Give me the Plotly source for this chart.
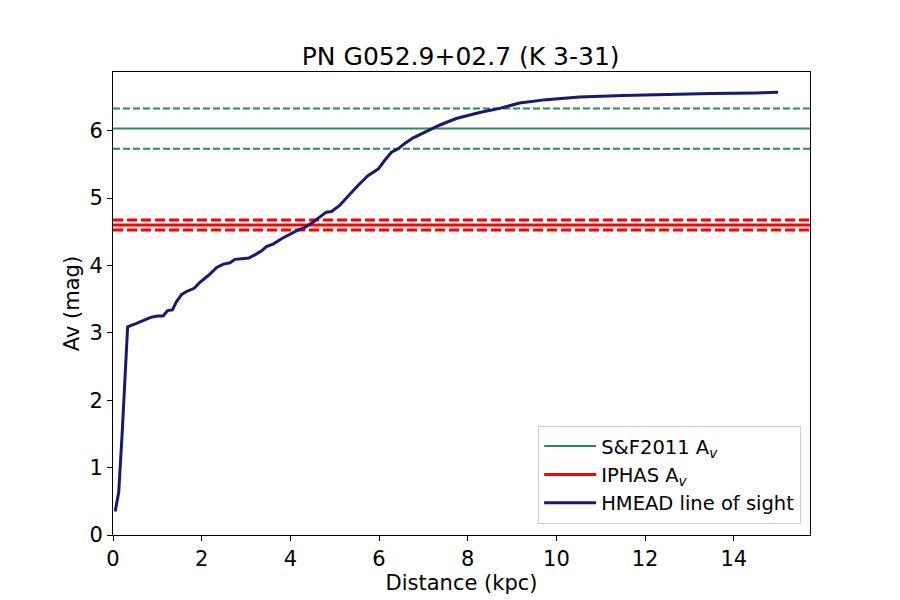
import plotly.graph_objects as go

title = "PN G052.9+02.7 (K 3-31)"

# HMEAD line of sight extinction
dist_kpc = [0.05, 0.13, 0.21, 0.33, 0.53, 0.72, 0.85, 1.00, 1.13, 1.23, 1.34, 1.43,
            1.55, 1.68, 1.83, 1.96, 2.15, 2.34, 2.49, 2.64, 2.75, 2.91, 3.06, 3.21,
            3.36, 3.46, 3.62, 3.81, 4.00, 4.19, 4.32, 4.51, 4.81, 4.93, 5.11, 5.34,
            5.53, 5.75, 5.98, 6.13, 6.28, 6.43, 6.58, 6.76, 7.07, 7.36, 7.74, 8.27,
            8.72, 9.17, 9.77, 10.52, 11.5, 12.5, 13.5, 14.5, 15.0]
av_los = [0.35, 0.64, 1.55, 3.09, 3.14, 3.19, 3.23, 3.25, 3.25, 3.33, 3.34, 3.46,
          3.57, 3.62, 3.66, 3.75, 3.85, 3.97, 4.02, 4.04, 4.09, 4.10, 4.11, 4.16,
          4.22, 4.28, 4.32, 4.40, 4.47, 4.53, 4.56, 4.64, 4.79, 4.80, 4.89, 5.06,
          5.19, 5.33, 5.43, 5.56, 5.68, 5.73, 5.81, 5.89, 5.99, 6.08, 6.18, 6.27,
          6.33, 6.41, 6.46, 6.50, 6.52, 6.54, 6.55, 6.56, 6.57]

# S&F2011 and IPHAS extinction with errors
av_sf, av_sf_err = 6.03, 0.30
av_iphas, av_iphas_err = 4.60, 0.075

x_ticks = [0, 2, 4, 6, 8, 10, 12, 14]
y_ticks = [0, 1, 2, 3, 4, 5, 6]

green = "#2e8b57"
red = "#ff0000"
navy = "#191970"

fig = go.Figure()

# legend-only entries for the horizontal lines
fig.add_trace(go.Scatter(x=[None], y=[None], mode="lines", name="S&F2011 A<sub><i>v</i></sub>",
                         line=dict(color=green, width=2)))
fig.add_trace(go.Scatter(x=[None], y=[None], mode="lines", name="IPHAS A<sub><i>v</i></sub>",
                         line=dict(color=red, width=3)))
fig.add_trace(go.Scatter(x=dist_kpc, y=av_los, mode="lines", name="HMEAD line of sight",
                         line=dict(color=navy, width=3)))

fig.add_hline(y=av_sf, line=dict(color=green, width=2), layer="below")
fig.add_hline(y=av_sf + av_sf_err, line=dict(color=green, width=2, dash="7px,3px"), layer="below")
fig.add_hline(y=av_sf - av_sf_err, line=dict(color=green, width=2, dash="7px,3px"), layer="below")
fig.add_hline(y=av_iphas, line=dict(color=red, width=3), layer="below")
fig.add_hline(y=av_iphas + av_iphas_err, line=dict(color=red, width=3, dash="10px,4px"), layer="below")
fig.add_hline(y=av_iphas - av_iphas_err, line=dict(color=red, width=3, dash="10px,4px"), layer="below")

axis_style = dict(showline=True, linecolor="black", linewidth=1, mirror=True,
                  ticks="outside", ticklen=5, tickcolor="black", showgrid=False,
                  zeroline=False, automargin=False,
                  tickfont=dict(size=21, color="black"))

# the page body adds an 8px offset, so margins are shifted to compensate
fig.update_layout(
    width=900, height=600,
    paper_bgcolor="white", plot_bgcolor="white",
    font=dict(family="DejaVu Sans", color="black"),
    margin=dict(l=105, r=98, t=64, b=73),
    title=dict(text=title, x=0.503, xanchor="center", y=0.92, yref="container",
               yanchor="middle", font=dict(size=25)),
    xaxis=dict(range=[0, 15.72], tickvals=x_ticks,
               title=dict(text="Distance (kpc)", font=dict(size=21), standoff=1),
               **axis_style),
    yaxis=dict(range=[0, 6.87], tickvals=y_ticks,
               title=dict(text="Av (mag)", font=dict(size=21), standoff=4),
               **axis_style),
    legend=dict(x=0.61, y=0.024, xanchor="left", yanchor="bottom",
                bgcolor="rgba(255,255,255,0.8)", bordercolor="#cccccc", borderwidth=1,
                font=dict(size=19.5), itemwidth=52, tracegroupgap=4),
    showlegend=True,
)

fig.write_html("out.html")
